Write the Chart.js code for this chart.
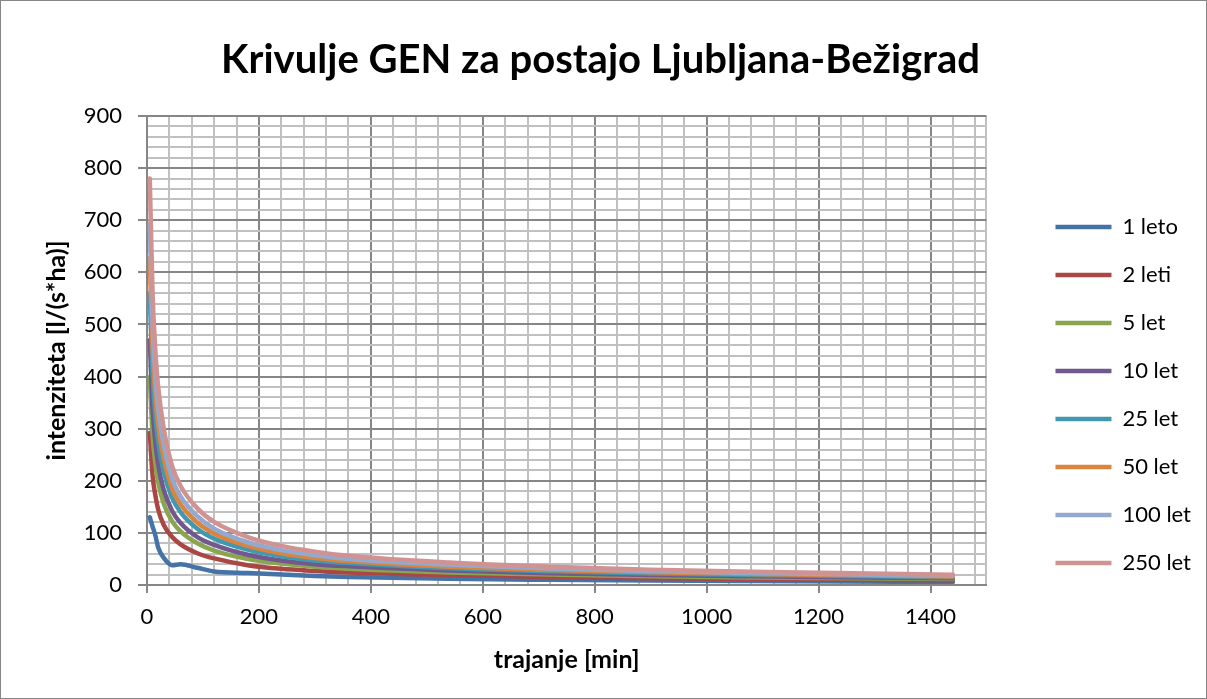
<!DOCTYPE html>
<html>
<head>
<meta charset="utf-8">
<title>Krivulje GEN</title>
<script src="https://cdn.jsdelivr.net/npm/chart.js@4.4.0/dist/chart.umd.min.js"></script>
<style>
    html, body { margin: 0; padding: 0; background: #fff; }
    #wrap { position: relative; width: 1207px; height: 699px; }
    #frame { position: absolute; left: 0; top: 0; width: 1207px; height: 699px; box-sizing: border-box; border: 1px solid #868686; pointer-events: none; }
</style>
</head>
<body>
<div id="wrap">
    <canvas id="myChart" width="1207" height="699"></canvas>
    <div id="frame"></div>
</div>
<script>
// trajanje padavin [min]
var durations = [5, 10, 15, 20, 30, 45, 60, 90, 120, 180, 240, 300, 360, 540, 720, 900, 1080, 1440];

// intenziteta [l/(s*ha)] za posamezne povratne dobe
var leto1   = [130, 112, 95, 72, 52, 38, 40, 33, 26, 23, 20, 17.5, 15.5, 12, 10, 8.5, 7.5, 6];
var leti2   = [292, 210, 172, 145, 115, 92, 78, 61, 51, 38, 31, 27, 24, 19, 15.5, 13, 11.5, 9];
var let5    = [399, 287, 233, 197, 156, 122, 103, 80, 66, 50, 41, 35, 31, 24, 20, 16.6, 14.6, 11.3];
var let10   = [470, 338, 274, 231, 182, 142, 119, 92, 77, 58, 47, 40, 36, 28, 22.6, 19, 16.6, 12.8];
var let25   = [560, 402, 325, 274, 217, 167, 140, 108, 89, 68, 55, 47, 42, 32, 26.2, 22, 19.2, 14.8];
var let50   = [627, 450, 363, 306, 242, 185, 155, 120, 99, 75, 61, 52, 46, 35, 28.9, 24.3, 21.1, 16.2];
var let100  = [693, 497, 400, 338, 267, 204, 170, 132, 108, 82, 67, 57, 50, 39, 31.5, 26.5, 23, 17.6];
var let250  = [780, 560, 450, 380, 300, 228, 190, 147, 121, 92, 75, 64, 56, 43, 35, 29.5, 25.5, 19.5];

var seriesNames = ['1 leto', '2 leti', '5 let', '10 let', '25 let', '50 let', '100 let', '250 let'];
var seriesData = [leto1, leti2, let5, let10, let25, let50, let100, let250];
var seriesColors = ['#4572A7', '#AA4643', '#89A54E', '#71588F', '#4198AF', '#DB843D', '#93A9CF', '#D19392'];

// oznake osi
var xLabels = [0, 200, 400, 600, 800, 1000, 1200, 1400];
var yLabels = [0, 100, 200, 300, 400, 500, 600, 700, 800, 900];
var xMax = 1500, xMinorStep = 40;
var yMax = 900, yMinorStep = 20;

var fontFamily = 'Lato, "Open Sans", sans-serif';
var majorColor = '#868686';
var minorColor = '#c0c0c0';

var datasets = seriesData.map(function (values, i) {
    return {
        label: seriesNames[i],
        data: durations.map(function (t, j) { return { x: t, y: values[j] }; }),
        borderColor: seriesColors[i],
        backgroundColor: seriesColors[i],
        borderWidth: 4.5,
        borderCapStyle: 'round',
        borderJoinStyle: 'round',
        pointRadius: 0,
        pointHoverRadius: 0,
        cubicInterpolationMode: 'monotone',
        fill: false,
        order: seriesData.length - i
    };
});

function minorTicks(step, max) {
    var t = [];
    for (var v = 0; v < max; v += step) t.push({ value: v });
    t.push({ value: max });
    return t;
}

var ctx = document.getElementById('myChart');
var chart = new Chart(ctx, {
    type: 'line',
    data: { datasets: datasets },
    options: {
        responsive: false,
        animation: false,
        events: [],
        layout: { padding: { left: 0, right: 6, top: 0, bottom: 0 } },
        plugins: {
            title: {
                display: true,
                text: 'Krivulje GEN za postajo Ljubljana-Bežigrad',
                color: '#000',
                font: { family: fontFamily, size: 40, weight: 'bold', lineHeight: 1.2 },
                padding: { top: 36, bottom: 32 }
            },
            legend: {
                position: 'right',
                align: 'center',
                title: { display: true, text: '', font: { size: 12 }, padding: { top: 0, bottom: 76.6 } },
                labels: {
                    usePointStyle: true,
                    pointStyle: 'line',
                    pointStyleWidth: 56,
                    padding: 26,
                    color: '#000',
                    font: { family: fontFamily, size: 22 },
                    sort: function (a, b) { return a.datasetIndex - b.datasetIndex; }
                }
            },
            tooltip: { enabled: false }
        },
        scales: {
            x: {
                type: 'linear',
                min: 0,
                max: xMax,
                afterBuildTicks: function (scale) { scale.ticks = minorTicks(xMinorStep, xMax); },
                ticks: {
                    autoSkip: false,
                    maxRotation: 0,
                    padding: 11,
                    color: '#000',
                    font: { family: fontFamily, size: 22 },
                    callback: function (v) { return xLabels.indexOf(v) >= 0 ? String(v) : ''; }
                },
                grid: {
                    lineWidth: 2,
                    tickLength: 8,
                    tickWidth: 2,
                    color: function (c) { return c.tick && c.tick.value % 200 === 0 ? majorColor : minorColor; },
                    tickColor: function (c) { return c.tick && c.tick.value % 200 === 0 ? majorColor : 'rgba(0,0,0,0)'; }
                },
                border: { color: majorColor, width: 2 },
                title: {
                    display: true,
                    text: 'trajanje [min]',
                    color: '#000',
                    font: { family: fontFamily, size: 25, weight: 'bold', lineHeight: 1.2 },
                    padding: { top: 3.6, bottom: 24 }
                }
            },
            y: {
                type: 'linear',
                min: 0,
                max: yMax,
                afterBuildTicks: function (scale) { scale.ticks = minorTicks(yMinorStep, yMax); },
                ticks: {
                    autoSkip: false,
                    padding: 16,
                    color: '#000',
                    font: { family: fontFamily, size: 22 },
                    callback: function (v) { return yLabels.indexOf(v) >= 0 ? String(v) : ''; }
                },
                grid: {
                    lineWidth: 2,
                    tickLength: 9,
                    tickWidth: 2,
                    color: function (c) { return c.tick && c.tick.value % 100 === 0 ? majorColor : minorColor; },
                    tickColor: function (c) { return c.tick && c.tick.value % 100 === 0 ? majorColor : 'rgba(0,0,0,0)'; }
                },
                border: { color: majorColor, width: 2 },
                title: {
                    display: true,
                    text: 'intenziteta [l/(s*ha)]',
                    color: '#000',
                    font: { family: fontFamily, size: 25, weight: 'bold', lineHeight: 1.2 },
                    padding: { top: 42, bottom: -4.3 }
                }
            },
            // prazen prostor med grafom in legendo
            y2: {
                position: 'right',
                display: true,
                grid: { display: false, drawTicks: false },
                border: { display: false },
                ticks: { display: false },
                afterFit: function (scale) { scale.width = 43; }
            }
        }
    }
});
</script>
</body>
</html>
